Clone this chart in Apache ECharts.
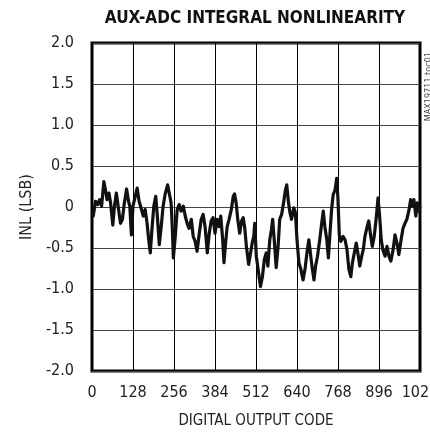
<!DOCTYPE html>
<html>
<head>
<meta charset="utf-8">
<script src="https://cdn.jsdelivr.net/npm/echarts@6/dist/echarts.min.js"></script>
<style>
html,body{margin:0;padding:0;background:#fff;}
#chart{width:430px;height:435px;}
</style>
</head>
<body>
<div id="chart"></div>
<script>
const FONT = "'Liberation Sans Narrow', 'DejaVu Sans Condensed', 'Arial Narrow', sans-serif";

const titleText = "AUX-ADC INTEGRAL NONLINEARITY";
const xAxisTitle = "DIGITAL OUTPUT CODE";
const yAxisTitle = "INL (LSB)";
const watermark = "MAX19711 toc01";

const xTicks = [0, 128, 256, 384, 512, 640, 768, 896, 1024];
const yTicks = [-2.0, -1.5, -1.0, -0.5, 0, 0.5, 1.0, 1.5, 2.0];
const yTickLabels = ["-2.0", "-1.5", "-1.0", "-0.5", "0", "0.5", "1.0", "1.5", "2.0"];

const codes = [
  0, 4, 11, 18, 24, 30, 37, 42, 47, 53, 58, 65, 70, 76, 83, 89, 95, 101, 108, 114,
  118, 123, 128, 135, 141, 147, 153, 160, 166, 172, 177, 182, 187, 193, 199, 204, 210, 216, 222, 228,
  236, 241, 247, 251, 254, 260, 266, 272, 278, 285, 291, 297, 303, 310, 316, 322, 328, 335, 341, 347,
  353, 360, 366, 372, 378, 384, 391, 397, 402, 408, 412, 417, 422, 428, 435, 441, 445, 450, 455, 461,
  467, 472, 477, 482, 489, 495, 501, 505, 508, 513, 520, 526, 532, 538, 544, 549, 555, 560, 564, 569,
  575, 581, 586, 592, 598, 604, 608, 613, 618, 623, 630, 635, 640, 646, 652, 659, 665, 671, 677, 683,
  688, 693, 698, 704, 711, 717, 722, 727, 733, 738, 743, 748, 753, 759, 764, 768, 772, 777, 784, 790,
  796, 802, 808, 813, 819, 825, 830, 836, 842, 847, 852, 859, 864, 869, 875, 881, 888, 893, 898, 903,
  908, 915, 921, 927, 933, 940, 946, 952, 958, 965, 971, 977, 983, 990, 995, 1000, 1005, 1011, 1016, 1021,
  1024
];

const inl = [
  -0.05, -0.11, 0.07, 0.03, 0.09, 0.01, 0.31, 0.21, 0.09, 0.17, 0.05, -0.22, 0.01, 0.17, -0.03, -0.20, -0.15, 0.05, 0.22, 0.07,
  0.01, -0.34, 0.01, 0.13, 0.23, 0.07, -0.01, -0.11, -0.03, -0.20, -0.40, -0.56, -0.28, 0.01, 0.13, -0.11, -0.46, -0.24, 0.01, 0.15,
  0.27, 0.17, 0.05, -0.28, -0.62, -0.36, -0.03, 0.03, -0.05, 0.01, -0.11, -0.20, -0.26, -0.15, -0.36, -0.42, -0.54, -0.32, -0.15, -0.09,
  -0.24, -0.56, -0.32, -0.17, -0.13, -0.32, -0.15, -0.24, -0.11, -0.40, -0.68, -0.44, -0.24, -0.15, -0.03, 0.13, 0.16, 0.05, -0.15, -0.32,
  -0.17, -0.13, -0.26, -0.48, -0.70, -0.56, -0.42, -0.36, -0.20, -0.60, -0.80, -0.97, -0.85, -0.64, -0.56, -0.72, -0.40, -0.28, -0.15, -0.40,
  -0.74, -0.48, -0.15, -0.09, 0.05, 0.21, 0.27, 0.07, -0.07, -0.15, -0.01, -0.07, -0.40, -0.68, -0.76, -0.89, -0.76, -0.56, -0.40, -0.60,
  -0.76, -0.89, -0.72, -0.60, -0.40, -0.20, -0.05, -0.24, -0.40, -0.62, -0.32, -0.03, 0.15, 0.21, 0.35, 0.09, -0.34, -0.42, -0.36, -0.40,
  -0.52, -0.76, -0.85, -0.68, -0.56, -0.44, -0.56, -0.72, -0.60, -0.52, -0.36, -0.24, -0.17, -0.32, -0.48, -0.36, -0.11, 0.11, -0.11, -0.40,
  -0.52, -0.60, -0.48, -0.60, -0.66, -0.52, -0.34, -0.44, -0.58, -0.40, -0.26, -0.20, -0.15, -0.03, 0.09, 0.01, 0.09, -0.11, 0.05, -0.05,
  0.01
];

const chart = echarts.init(document.getElementById('chart'), null, {renderer: 'canvas'});

chart.setOption({
  animation: false,
  backgroundColor: '#ffffff',
  grid: {
    left: 92, top: 43, width: 328, height: 328,
    outerBoundsMode: 'none', containLabel: false,
    show: true, borderColor: '#000', borderWidth: 3, backgroundColor: 'transparent'
  },
  xAxis: {
    type: 'value', min: 0, max: 1024, interval: 128,
    name: xAxisTitle, nameLocation: 'middle', nameGap: 43,
    nameTextStyle: {fontFamily: FONT, fontSize: 15, color: '#222'},
    axisLine: {show: false}, axisTick: {show: false},
    axisLabel: {
      margin: 14, fontFamily: FONT, fontSize: 16, color: '#222',
      formatter: function (v) { return xTicks.indexOf(v) >= 0 ? String(v) : ''; }
    },
    splitLine: {show: true, lineStyle: {color: '#000', width: 1}}
  },
  yAxis: {
    type: 'value', min: -2, max: 2, interval: 0.5,
    name: yAxisTitle, nameLocation: 'middle', nameGap: 46,
    nameTextStyle: {fontFamily: FONT, fontSize: 16, color: '#222'},
    axisLine: {show: false}, axisTick: {show: false},
    axisLabel: {
      margin: 18, fontFamily: FONT, fontSize: 16, color: '#222',
      formatter: function (v) {
        const i = yTicks.findIndex(t => Math.abs(t - v) < 1e-9);
        return i >= 0 ? yTickLabels[i] : '';
      }
    },
    splitLine: {show: true, lineStyle: {color: '#444', width: 1}}
  },
  graphic: [{
    type: 'text',
    x: 255, y: 10,
    style: {text: titleText, fontFamily: FONT, fontWeight: 'bold', fontSize: 17, fill: '#111', align: 'center', verticalAlign: 'top'}
  }, {
    type: 'text',
    left: 424, top: 52,
    rotation: Math.PI / 2,
    style: {text: watermark, fontFamily: FONT, fontSize: 9, fill: '#444'}
  }],
  series: [{
    type: 'line',
    data: codes.map((c, i) => [c, inl[i]]),
    showSymbol: false,
    lineStyle: {color: '#111', width: 3.2, join: 'round'},
    z: 5
  }]
});
</script>
</body>
</html>
